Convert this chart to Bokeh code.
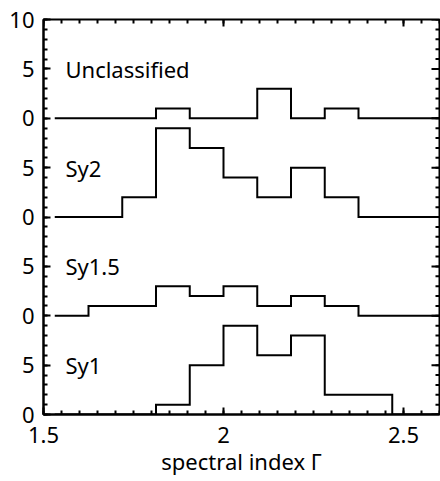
import numpy as np
from bokeh.plotting import figure
from bokeh.models import LinearAxis, FixedTicker, Range1d
from bokeh.core.properties import value
from bokeh.embed import file_html
from bokeh.resources import INLINE

# ---- data ----
bin_edges = [1.53125, 1.625, 1.71875, 1.8125, 1.90625, 2.0, 2.09375,
             2.1875, 2.28125, 2.375, 2.46875, 2.5625, 2.65625]
panel_names = ["Unclassified", "Sy2", "Sy1.5", "Sy1"]
unclassified = [0, 0, 0, 1, 0, 0, 3, 0, 1, 0, 0, 0]
sy2 = [0, 0, 2, 9, 7, 4, 2, 5, 2, 0, 0, 0]
sy15 = [0, 1, 1, 3, 2, 3, 1, 2, 1, 0, 0, 0]
sy1 = [0, 0, 0, 1, 5, 9, 6, 8, 2, 2, 0, 0]
panel_offsets = [30, 20, 10, 0]
x_ticks = [1.5, 2.0, 2.5]
x_tick_labels = ["1.5", "2", "2.5"]
y_panel_ticks = [0, 5]
x_label = "spectral index \u0393"

FONT = "Noto Sans"
X0, X1, Y0, Y1 = 1.5, 2.6, 0, 40

p = figure(width=440, height=481, output_backend="svg", toolbar_location=None,
           x_range=Range1d(X0, X1), y_range=Range1d(Y0, Y1),
           min_border_left=43, min_border_right=1, min_border_top=19,
           min_border_bottom=67, x_axis_location=None, y_axis_location=None)
p.xgrid.visible = False
p.ygrid.visible = False
p.outline_line_color = "black"
p.outline_line_width = 2
p.background_fill_color = "white"
p.border_fill_color = "white"

# y ticks for stacked panels
yt = []
ylab = {}
for off in panel_offsets:
    for t in y_panel_ticks:
        yt.append(off + t)
        ylab[off + t] = str(t)
yt.append(40)
ylab[40] = "10"
y_minor = list(range(0, 41))
x_minor = [float(v) for v in np.round(np.arange(1.5, 2.6001, 0.05), 3)]


def style_axis(ax):
    ax.axis_line_color = "black"
    ax.axis_line_width = 2
    ax.major_tick_line_color = "black"
    ax.major_tick_line_width = 2
    ax.minor_tick_line_color = "black"
    ax.minor_tick_line_width = 2
    ax.major_tick_in = 7
    ax.major_tick_out = 0
    ax.minor_tick_in = 4
    ax.minor_tick_out = 0
    ax.major_label_text_font = FONT
    ax.major_label_text_font_size = "22px"
    ax.major_label_text_color = "black"


xb = LinearAxis(ticker=FixedTicker(ticks=x_ticks, minor_ticks=x_minor),
                major_label_overrides={t: l for t, l in zip(x_ticks, x_tick_labels)})
style_axis(xb)
xb.major_label_standoff = 12
xb.axis_label = x_label
xb.axis_label_text_font = FONT
xb.axis_label_text_font_style = "normal"
xb.axis_label_text_font_size = "22px"
xb.axis_label_text_color = "black"
xb.axis_label_standoff = 0
p.add_layout(xb, "below")

yl = LinearAxis(ticker=FixedTicker(ticks=yt, minor_ticks=y_minor),
                major_label_overrides=ylab)
style_axis(yl)
yl.major_label_standoff = 9
p.add_layout(yl, "left")

# inward ticks on the top and right frame edges
p.ray(x=x_ticks, y=[Y1] * len(x_ticks), length=7, angle=-np.pi / 2,
      length_units="screen", line_color="black", line_width=2)
p.ray(x=x_minor, y=[Y1] * len(x_minor), length=4, angle=-np.pi / 2,
      length_units="screen", line_color="black", line_width=2)
p.ray(x=[X1] * len(yt), y=yt, length=8, angle=np.pi,
      length_units="screen", line_color="black", line_width=2)
p.ray(x=[X1] * len(y_minor), y=y_minor, length=4, angle=np.pi,
      length_units="screen", line_color="black", line_width=2)

series = [unclassified, sy2, sy15, sy1]
for name, counts, off in zip(panel_names, series, panel_offsets):
    ys = np.array(counts + [counts[-1]], dtype=float) + off
    p.step(x=bin_edges, y=ys, mode="after", line_color="black", line_width=2,
           line_join="miter")
    p.text(x=[1.561], y=[off + 5], text=[name], text_font=value(FONT),
           text_font_size="22px", text_baseline="middle", text_align="left",
           text_color="black")

open("out.html", "w").write(file_html(p, INLINE))
